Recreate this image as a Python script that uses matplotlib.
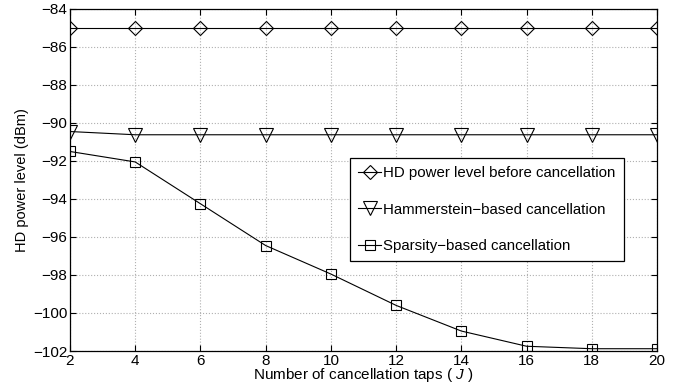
import numpy as np
import matplotlib
matplotlib.use('Agg')
import matplotlib.pyplot as plt

plt.rcParams['font.family'] = ['Liberation Sans', 'DejaVu Sans']
plt.rcParams['mathtext.fontset'] = 'custom'
plt.rcParams['mathtext.it'] = 'Liberation Sans:italic'
plt.rcParams['mathtext.rm'] = 'Liberation Sans'

# Data
taps = [2, 4, 6, 8, 10, 12, 14, 16, 18, 20]
hd_before = [-85.0, -85.0, -85.0, -85.0, -85.0, -85.0, -85.0, -85.0, -85.0, -85.0]
hammerstein = [-90.45, -90.62, -90.62, -90.62, -90.62, -90.62, -90.62, -90.62, -90.62, -90.62]
sparsity = [-91.5, -92.05, -94.25, -96.45, -97.95, -99.6, -100.95, -101.75, -101.88, -101.88]

labels = ['HD power level before cancellation',
          'Hammerstein\u2212based cancellation',
          'Sparsity\u2212based cancellation']

fig = plt.figure(figsize=(6.88, 3.9), dpi=100)
ax = fig.add_axes([0.1017, 0.1, 0.8533, 0.877])

mk = dict(color='k', linewidth=0.8, markerfacecolor='none', markeredgecolor='k', markeredgewidth=0.8)
ax.plot(taps, hd_before, marker='D', markersize=7.5, label=labels[0], **mk)
ax.plot(taps, hammerstein, marker='v', markersize=9.5, label=labels[1], **mk)
ax.plot(taps, sparsity, marker='s', markersize=7.5, label=labels[2], **mk)

ax.set_xlim(2, 20)
ax.set_ylim(-102, -84)
ax.set_xticks(np.arange(2, 21, 2))
ax.set_yticks(np.arange(-102, -83, 2))
ax.grid(True, linestyle=':', color='#b0b0b0', linewidth=0.8)
ax.tick_params(direction='in', top=True, right=True, labelsize=11, length=4, width=0.8, pad=2)
for s in ax.spines.values():
    s.set_linewidth(0.9)

ax.set_xlabel('Number of cancellation taps ( $J$ )', fontsize=11, labelpad=-1)
ax.set_ylabel('HD power level (dBm)', fontsize=10.5, labelpad=3)

leg = ax.legend(loc='upper left', bbox_to_anchor=(0.477, 0.565), fontsize=10.8,
                fancybox=False, edgecolor='k', framealpha=1, handlelength=1.5,
                handletextpad=0.15, labelspacing=1.5, borderpad=0.55, borderaxespad=0)
leg.get_frame().set_linewidth(0.9)

fig.savefig('out.png', dpi=100)
